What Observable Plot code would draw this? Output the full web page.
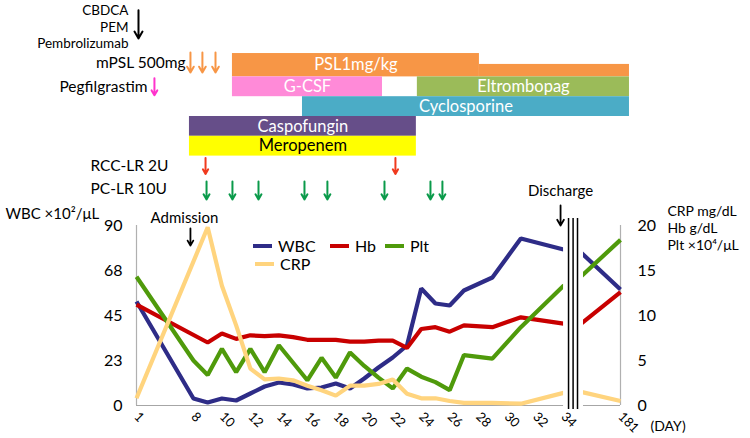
<!DOCTYPE html>
<html><head><meta charset="utf-8">
<script src="https://cdn.jsdelivr.net/npm/d3@7"></script>
<script src="https://cdn.jsdelivr.net/npm/@observablehq/plot@0.6"></script>
<style>
body{margin:0;background:#fff;font-family:Lato,"Open Sans",sans-serif;}
#wrap{position:relative;width:750px;height:438px;overflow:hidden;background:#fff;}
#wrap svg{position:absolute;left:0;top:0;}
.lg{position:absolute;font-size:16px;line-height:18px;color:#000;white-space:nowrap;}
.sw{position:absolute;height:4px;}
</style></head><body><div id="wrap"></div>
<script>
// ---------- axis categories (category index = position on the x axis) ----------
const xCategories = ["1","","","","8","9","10","11","12","13","14","15","16","17","18","19","20","21","22","23","24","25","26","27","28","29","30","31","32","33","34","35","","","181"];
const xTickLabels = ["1","8","10","12","14","16","18","20","22","24","26","28","30","32","34","181"];
const leftTicks = [0, 22.5, 45, 67.5, 90];
const rightTicks = [0, 5, 10, 15, 20];

// ---------- series ----------
const wbcDays = ["1","8","9","10","11","12","13","14","15","16","17","18","19","20","21","22","23","24","25","26","27","29","31","34","35","181"];
const wbcValues = [52, 3.5, 1.5, 3.5, 2.5, 6, 9.5, 11.5, 10.5, 8.5, 9, 11, 8.5, 13.5, 19, 24, 30, 58.5, 51, 50, 57.5, 64, 83.5, 78, 78, 58];
const hbDays = ["1","9","10","11","12","13","14","15","16","18","19","20","21","22","23","24","25","26","27","29","31","34","35","181"];
const hbValues = [11.2, 7.0, 8.0, 7.4, 7.8, 7.7, 7.8, 7.6, 7.3, 7.3, 7.1, 7.1, 7.2, 7.2, 6.4, 8.5, 8.7, 8.2, 8.9, 8.7, 9.8, 9.1, 8.8, 12.6];
const pltDays = ["1","8","9","10","11","12","13","14","16","17","18","19","20","21","22","23","24","25","26","27","29","31","34","35","181"];
const pltValues = [14.3, 5.0, 3.4, 6.3, 3.7, 6.3, 3.7, 6.7, 2.8, 5.3, 3.1, 5.9, 4.4, 3.1, 1.9, 4.1, 3.2, 2.6, 1.7, 5.6, 5.2, 8.7, 13.3, 14.0, 18.4];
const crpDays = ["1","9","10","11","12","13","14","15","16","17","18","19","20","21","22","23","24","25","26","27","29","31","34","35","181"];
const crpValues = [0.8, 19.8, 13.3, 8.9, 4.1, 2.9, 3.0, 2.8, 2.2, 1.7, 1.1, 2.2, 2.2, 2.4, 2.9, 1.3, 0.8, 0.8, 0.5, 0.3, 0.3, 0.2, 1.4, 1.6, 0.5];

const seriesNames = ["WBC","Hb","Plt","CRP"];
const seriesAxis = ["left","right","right","right"];
const leftTitle = "WBC ×10²/μL";
const rightTitles = ["CRP mg/dL","Hb g/dL","Plt ×10⁴/μL"];

// ---------- treatments (timeline positions in axis-category units) ----------
const barNames  = ["PSL1mg/kg","PSL taper","G-CSF","Eltrombopag","Cyclosporine","Caspofungin","Meropenem"];
const barStart  = [6.74, 24.09, 6.74, 19.73, 11.66, 3.72, 3.72];
const barEnd    = [24.09, 34.63, 17.28, 34.63, 34.63, 19.66, 19.66];
const barLane   = [0, 0, 1, 1, 2, 3, 4];
const barLevel  = ["high","low","normal","normal","normal","normal","normal"];
const barShowLabel = [true, false, true, true, true, true, true];

const chemoLabels = ["CBDCA","PEM","Pembrolizumab"];
const chemoArrows = [0.14];
const mpslArrows  = [3.79, 4.63, 5.55];
const pegArrows   = [1.26];
const rccArrows   = [4.85, 18.19];
const pcArrows    = [4.92, 6.74, 8.57, 11.80, 13.41, 17.42, 20.65, 21.49];

// ---------- styles ----------
const seriesColor = {WBC:"#2E2C87", Hb:"#C80000", Plt:"#4F9A0B", CRP:"#FFD47E"};
const barFill = {"PSL1mg/kg":"#F79646","PSL taper":"#F79646","G-CSF":"#FF8AD8","Eltrombopag":"#9BBB59","Cyclosporine":"#4BACC6","Caspofungin":"#664E89","Meropenem":"#FFFF00"};
const barText = {"Meropenem":"#000"};
const levelTop = {high:0.68, low:0.13, normal:0.5};
const FONT = "Lato, 'Open Sans', sans-serif";

const slot = lab => xCategories.indexOf(lab);
const K = 90 / 20;

const lineData = [];
[[wbcDays, wbcValues],[hbDays, hbValues],[pltDays, pltValues],[crpDays, crpValues]].forEach(([ds, vs], i) => {
  ds.forEach((d, j) => lineData.push({series: seriesNames[i], s: slot(d), v: seriesAxis[i] === "right" ? vs[j] * K : vs[j]}));
});

const common = {width: 750, height: 438, marginLeft: 136, marginRight: 130};
const wrap = document.getElementById("wrap");

// ---------- main chart ----------
const breakAt = slot("34");
const main = Plot.plot({
  ...common,
  marginTop: 225, marginBottom: 33,
  style: {fontFamily: FONT, fontSize: "16px", background: "transparent", color: "#000", overflow: "visible"},
  x: {domain: [0, xCategories.length - 1]},
  y: {domain: [0, 90]},
  marks: [
    Plot.ruleY([0], {stroke: "#a6a6a6", strokeWidth: 1.2}),
    Plot.ruleX([0, xCategories.length - 1], {stroke: "#b0b0b0", strokeWidth: 1.2}),
    ...seriesNames.map(n => Plot.line(lineData.filter(d => d.series === n), {x: "s", y: "v", stroke: seriesColor[n], strokeWidth: 4.2, strokeLinejoin: "miter", strokeLinecap: "butt"})),
    Plot.rect([breakAt], {x1: d => d, x2: d => d + 1.4, y1: () => -3, y2: () => 93.5, fill: "#fff"}),
    Plot.ruleX([0.35, 0.67, 0.98], {x: d => breakAt + d, y1: () => -2, y2: () => 93.5, stroke: "#000", strokeWidth: 1.5}),
    Plot.axisY({ticks: leftTicks, tickFormat: d => String(Math.round(d)), tickSize: 0, tickPadding: 14, fontSize: 16, label: null}),
    Plot.axisY({anchor: "right", ticks: rightTicks.map(v => v * K), tickFormat: d => String(Math.round(d / K)), tickSize: 0, tickPadding: 17, fontSize: 16, label: null}),
    Plot.axisX({ticks: xTickLabels.map(slot), tickFormat: s => xCategories[s], tickRotate: 45, tickSize: 0, tickPadding: 9, fontSize: 13, label: null}),
    Plot.text([leftTitle], {frameAnchor: "top-left", text: d => d, textAnchor: "start", lineAnchor: "middle", dx: -131, dy: -11, fontSize: 15}),
    ...rightTitles.map((t, i) => Plot.text([t], {frameAnchor: "top-right", text: d => d, textAnchor: "start", lineAnchor: "middle", dx: 47, dy: -14 + i * 17, fontSize: 14})),
    Plot.text(["(DAY)"], {frameAnchor: "bottom-right", text: d => d, textAnchor: "start", lineAnchor: "middle", dx: 30, dy: 21, fontSize: 14}),
    Plot.text(["Admission"], {x: () => slot("8"), frameAnchor: "top", text: d => d, lineAnchor: "middle", dx: -9, dy: -7, fontSize: 15}),
    Plot.arrow([slot("8")], {x1: d => d, x2: d => d, y1: () => 88.5, y2: () => 80, dx: -3, stroke: "#000", strokeWidth: 1.8, headLength: 6}),
    Plot.text(["Discharge"], {x: () => slot("34"), frameAnchor: "top", text: d => d, lineAnchor: "middle", dx: -3, dy: -34, fontSize: 15}),
    Plot.arrow([slot("34")], {x1: d => d, x2: d => d, y1: () => 100, y2: () => 90, dx: -3, stroke: "#000", strokeWidth: 1.8, headLength: 6})
  ]
});
wrap.appendChild(main);

// ---------- treatment timeline ----------
const bars = barNames.map((n, i) => ({name: n, start: barStart[i], end: barEnd[i], lane: barLane[i], level: barLevel[i], show: barShowLabel[i]}));
const arrowRows = [
  {labels: chemoLabels, pos: chemoArrows, color: "#000", lane: -2, half: 0.71, dy: -3, labelDx: -10, labelDy: [-16.4, -0.1, 16.2], left: false, size: 13.5},
  {labels: ["mPSL 500mg"], pos: mpslArrows, color: "#F79646", lane: 0, half: 0.5, dy: -4.5, labelDx: -5, labelDy: [-4], left: false, size: 15.5},
  {labels: ["Pegfilgrastim"], pos: pegArrows, color: "#FF33CC", lane: 1, half: 0.43, dy: 0, labelDx: -7, labelDy: [0], left: false, size: 15.5},
  {labels: ["RCC-LR 2U"], pos: rccArrows, color: "#F03A1E", lane: 5, half: 0.4, dy: 0, labelDx: -46, labelDy: [0], left: true, size: 15.5},
  {labels: ["PC-LR 10U"], pos: pcArrows, color: "#0A9A4A", lane: 6, half: 0.45, dy: 4.7, labelDx: -46, labelDy: [3], left: true, size: 15.5}
];

const timeline = Plot.plot({
  ...common,
  marginTop: 0, marginBottom: 0,
  style: {fontFamily: FONT, fontSize: "16px", background: "transparent", color: "#000", overflow: "visible"},
  x: {domain: [0, xCategories.length - 1], axis: null},
  y: {domain: [0, 6], range: [66.5, 185.3], axis: null},
  marks: [
    Plot.rect(bars, {x1: "start", x2: "end", y1: d => d.lane - levelTop[d.level], y2: d => d.lane + 0.5, fill: d => barFill[d.name]}),
    Plot.text(bars.filter(d => d.show), {x: d => (d.start + d.end) / 2, y: d => d.lane + (0.5 - levelTop[d.level]) / 2, text: "name", fill: d => barText[d.name] || "#fff", fontSize: 16.5}),
    ...arrowRows.map(r => Plot.arrow(r.pos, {x1: d => d, x2: d => d, y1: () => r.lane - r.half, y2: () => r.lane + r.half, dy: r.dy, stroke: r.color, strokeWidth: 2, headLength: 6})),
    ...arrowRows.flatMap(r => r.labels.map((lab, k) => r.left
      ? Plot.text([lab], {y: () => r.lane, frameAnchor: "left", text: d => d, textAnchor: "start", lineAnchor: "middle", dx: r.labelDx, dy: r.labelDy[k], fontSize: r.size})
      : Plot.text([lab], {x: () => r.pos[0], y: () => r.lane, text: d => d, textAnchor: "end", lineAnchor: "middle", dx: r.labelDx, dy: r.labelDy[k], fontSize: r.size})))
  ]
});
wrap.appendChild(timeline);

// ---------- legend ----------
const legendPos = {WBC: [253, 246], Hb: [330, 246], Plt: [385, 246], CRP: [255, 264]};
seriesNames.forEach(n => {
  const [x, y] = legendPos[n];
  const sw = document.createElement("div");
  sw.className = "sw"; sw.style.left = x + "px"; sw.style.top = (y - 2) + "px"; sw.style.width = "19px"; sw.style.background = seriesColor[n];
  wrap.appendChild(sw);
  const t = document.createElement("div");
  t.className = "lg"; t.textContent = n; t.style.left = (x + 25) + "px"; t.style.top = (y - 9) + "px";
  wrap.appendChild(t);
});
</script></body></html>
